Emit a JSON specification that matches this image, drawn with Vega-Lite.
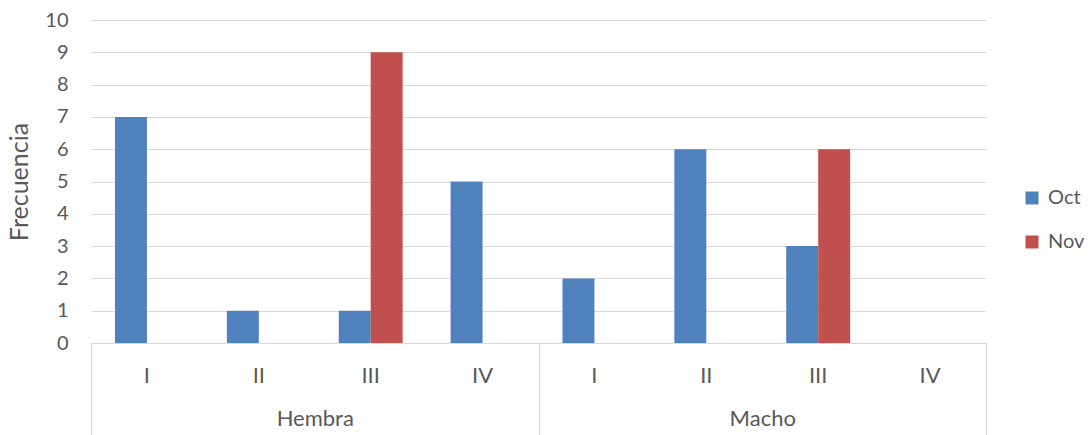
{
  "$schema": "https://vega.github.io/schema/vega-lite/v6.json",
  "width": 895,
  "height": 323,
  "autosize": {"type": "none"},
  "padding": {"left": 91, "top": 20, "right": 105, "bottom": 92},
  "background": "white",
  "config": {
    "view": {"stroke": null},
    "font": "Lato",
    "axis": {"labelColor": "#595959", "titleColor": "#595959", "labelFont": "Lato", "titleFont": "Lato"}
  },
  "data": {
    "values": [
      {"sex": "Hembra", "stage": "I", "key": "Hembra I", "series": "Oct", "value": 7},
      {"sex": "Hembra", "stage": "I", "key": "Hembra I", "series": "Nov", "value": 0},
      {"sex": "Hembra", "stage": "II", "key": "Hembra II", "series": "Oct", "value": 1},
      {"sex": "Hembra", "stage": "II", "key": "Hembra II", "series": "Nov", "value": 0},
      {"sex": "Hembra", "stage": "III", "key": "Hembra III", "series": "Oct", "value": 1},
      {"sex": "Hembra", "stage": "III", "key": "Hembra III", "series": "Nov", "value": 9},
      {"sex": "Hembra", "stage": "IV", "key": "Hembra IV", "series": "Oct", "value": 5},
      {"sex": "Hembra", "stage": "IV", "key": "Hembra IV", "series": "Nov", "value": 0},
      {"sex": "Macho", "stage": "I", "key": "Macho I", "series": "Oct", "value": 2},
      {"sex": "Macho", "stage": "I", "key": "Macho I", "series": "Nov", "value": 0},
      {"sex": "Macho", "stage": "II", "key": "Macho II", "series": "Oct", "value": 6},
      {"sex": "Macho", "stage": "II", "key": "Macho II", "series": "Nov", "value": 0},
      {"sex": "Macho", "stage": "III", "key": "Macho III", "series": "Oct", "value": 3},
      {"sex": "Macho", "stage": "III", "key": "Macho III", "series": "Nov", "value": 6},
      {"sex": "Macho", "stage": "IV", "key": "Macho IV", "series": "Oct", "value": 0},
      {"sex": "Macho", "stage": "IV", "key": "Macho IV", "series": "Nov", "value": 0}
    ]
  },
  "layer": [
    {
      "mark": {"type": "bar"},
      "encoding": {
        "x": {
          "field": "key", "type": "nominal", "sort": null,
          "scale": {"paddingInner": 0, "paddingOuter": 0},
          "axis": {
            "orient": "bottom",
            "title": null,
            "labelExpr": "split(datum.value, ' ')[1]",
            "ticks": false,
            "domainColor": "#d9d9d9",
            "domainWidth": 1,
            "labelPadding": 22,
            "labelFontSize": 22,
            "labelAngle": 0,
            "grid": false
          }
        },
        "xOffset": {
          "field": "series", "type": "nominal", "sort": ["Oct", "Nov"],
          "scale": {"paddingInner": 0, "paddingOuter": 0.75}
        },
        "y": {
          "field": "value", "type": "quantitative",
          "scale": {"domain": [0, 10], "nice": false},
          "axis": {
            "title": "Frecuencia",
            "titleFontSize": 25,
            "titleFontWeight": "normal",
            "titlePadding": 12,
            "values": [0, 1, 2, 3, 4, 5, 6, 7, 8, 9, 10],
            "labelFontSize": 20,
            "labelPadding": 23,
            "ticks": false,
            "domain": false,
            "grid": true,
            "gridColor": "#d9d9d9",
            "gridWidth": 1
          }
        },
        "color": {
          "field": "series", "type": "nominal", "sort": ["Oct", "Nov"],
          "scale": {"range": ["#4F81BD", "#C0504D"]},
          "legend": {
            "title": null,
            "orient": "none",
            "legendX": 931,
            "legendY": 168,
            "padding": 0,
            "symbolType": "square",
            "symbolSize": 169,
            "symbolStrokeWidth": 0,
            "labelFontSize": 20,
            "labelColor": "#595959",
            "labelFont": "Lato",
            "labelOffset": 6,
            "rowPadding": 24
          }
        }
      }
    },
    {
      "mark": {"type": "rule", "opacity": 0},
      "encoding": {
        "x": {
          "field": "sex", "type": "nominal", "sort": ["Hembra", "Macho"],
          "scale": {"paddingInner": 0, "paddingOuter": 0},
          "axis": {
            "orient": "bottom",
            "title": null,
            "tickBand": "extent",
            "tickSize": 92,
            "tickColor": "#d9d9d9",
            "tickWidth": 1,
            "domain": false,
            "grid": false,
            "labelPadding": -27,
            "labelFontSize": 22,
            "labelAngle": 0
          }
        }
      }
    }
  ],
  "resolve": {"scale": {"x": "independent", "xOffset": "independent"}}
}
